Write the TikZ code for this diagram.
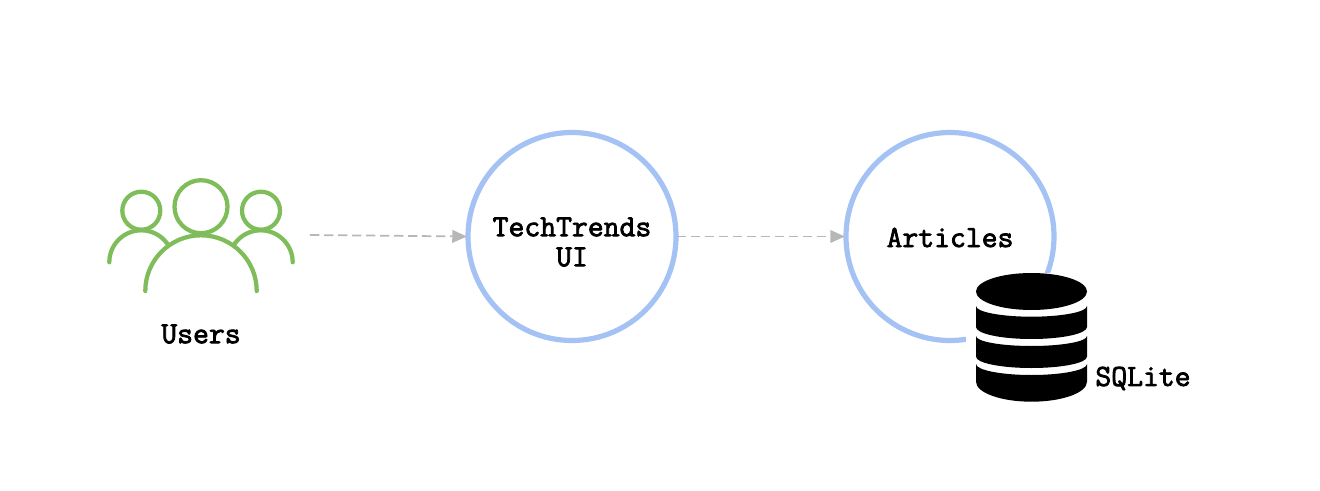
\documentclass[tikz,border=0pt]{standalone}
\usepackage{fontspec}
\setmonofont{Latin Modern Mono}[BoldFont={Latin Modern Mono},BoldFeatures={FakeBold=2.5}]
\usetikzlibrary{arrows.meta}
\definecolor{ringblue}{HTML}{A4C2F4}
\definecolor{usergreen}{HTML}{7FBD5A}
\definecolor{flowgrey}{HTML}{B7B7B7}
\tikzset{
  service/.style={circle,draw=ringblue,line width=3.9pt,minimum size=156pt,inner sep=0pt,outer sep=0.8pt},
  caption/.style={font=\ttfamily\bfseries\fontsize{23.1}{22.5}\selectfont,align=center,inner sep=0pt},
  person/.style={draw=usergreen,line width=3.2pt,line cap=round},
  flow/.style={draw=flowgrey,line width=1.3pt,dash pattern=on 7pt off 3.5pt,-{Triangle[length=11pt,width=9.5pt]}}
}
\begin{document}
\begin{tikzpicture}[x=0.75pt,y=0.75pt]
  \useasboundingbox (0, 0) rectangle (1320, 490);

  % users
  \draw[person] (201, 283.3) circle[radius=26.5];
  \draw[person] (141.3, 279.3) circle[radius=19];
  \draw[person] (261, 279.3) circle[radius=19];
  \draw[person] (145.3, 199) arc[start angle=180,end angle=0,radius=55.7];
  \draw[person] (109.3, 227.7) arc[start angle=180,end angle=36,radius=32];
  \draw[person] (292.7, 227.7) arc[start angle=0,end angle=144,radius=32];
  \node[caption] (users) at (201, 156) {Users};
  \coordinate (usersout) at (310, 255);

  % services
  \node[service] (ui) at (572, 253.5) {};
  \node[caption] (uilabel) at (572, 248) {TechTrends\\UI};
  \node[service] (articles) at (950, 253.5) {};
  \node[caption] (articleslabel) at (950, 252.5) {Articles};

  \draw[flow] (usersout) -- (ui.west);
  \draw[flow] (ui.east) -- (articles.west);

  % database
  \fill[white] (966, 217) rectangle (1100, 90);
  \fill[black] (1031.5, 198.5) ellipse[x radius=55.5,y radius=18.5];
  \fill[black] (976, 184) arc[start angle=180,end angle=360,x radius=55.5,y radius=10.7] -- (1087, 163) arc[start angle=360,end angle=180,x radius=55.5,y radius=12] -- cycle;
  \fill[black] (976, 154) arc[start angle=180,end angle=360,x radius=55.5,y radius=10] -- (1087, 133.3) arc[start angle=360,end angle=180,x radius=55.5,y radius=11.3] -- cycle;
  \fill[black] (976, 126) arc[start angle=180,end angle=360,x radius=55.5,y radius=11] -- (1087, 108.3) arc[start angle=360,end angle=180,x radius=55.5,y radius=20] -- cycle;
  \node[caption] (sqlite) at (1143, 111.5) {SQLite};
\end{tikzpicture}
\end{document}
